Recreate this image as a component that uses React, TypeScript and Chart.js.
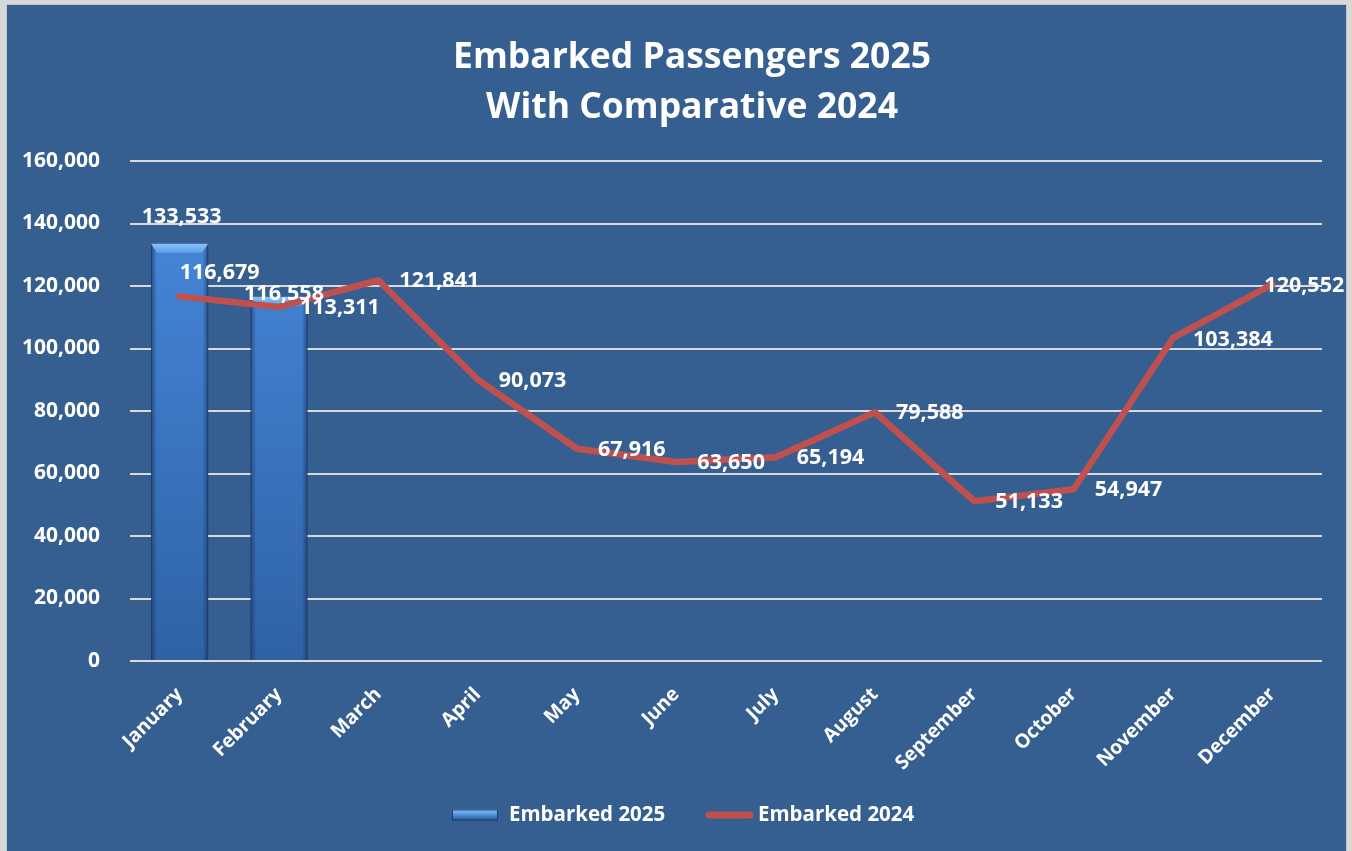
import React, { useEffect, useRef } from "react";
import { Chart, registerables } from "chart.js";

Chart.register(...registerables);

const months = [
  "January", "February", "March", "April", "May", "June",
  "July", "August", "September", "October", "November", "December",
];
const embarked2025: (number | null)[] = [133533, 116558, null, null, null, null, null, null, null, null, null, null];
const embarked2024: number[] = [116679, 113311, 121841, 90073, 67916, 63650, 65194, 79588, 51133, 54947, 103384, 120552];
const yTickValues = [0, 20000, 40000, 60000, 80000, 100000, 120000, 140000, 160000];
const titleLines = ["Embarked Passengers 2025", "With Comparative 2024"];
const seriesNames = ["Embarked 2025", "Embarked 2024"];

const FONT = "'Open Sans', 'DejaVu Sans', sans-serif";
const PANEL = "#365f91";
const LINE_RED = "#c0504d";

const fmt = (v: number) => v.toLocaleString("en-US");

const backgroundPlugin = {
  id: "panelBackground",
  beforeDraw(chart: any) {
    const { ctx, width, height } = chart;
    ctx.save();
    ctx.fillStyle = "#d8d8d8";
    ctx.fillRect(0, 0, width, height);
    ctx.fillStyle = "#c4c4c4";
    ctx.fillRect(6, 4, width - 11, height - 4);
    ctx.fillStyle = PANEL;
    ctx.fillRect(7, 5, width - 13, height - 5);
    ctx.restore();
  },
};

const titlePlugin = {
  id: "titleLines",
  afterDraw(chart: any) {
    const { ctx } = chart;
    ctx.save();
    ctx.fillStyle = "#ffffff";
    ctx.font = `bold 35.5px ${FONT}`;
    ctx.textAlign = "center";
    ctx.textBaseline = "middle";
    ctx.fillText(titleLines[0], 692, 58);
    ctx.fillText(titleLines[1], 692, 108);
    ctx.restore();
  },
};

const barBevelPlugin = {
  id: "barBevel",
  afterDatasetDraw(chart: any, args: any) {
    if (args.index !== 0) return;
    const { ctx } = chart;
    const meta = chart.getDatasetMeta(0);
    ctx.save();
    meta.data.forEach((bar: any, i: number) => {
      if (embarked2025[i] == null) return;
      const { x, y, base, width } = bar;
      const x0 = x - width / 2;
      const x1 = x + width / 2;
      const side = ctx.createLinearGradient(x0, 0, x1, 0);
      side.addColorStop(0, "rgba(20,40,80,0.55)");
      side.addColorStop(0.1, "rgba(20,40,80,0.0)");
      side.addColorStop(0.9, "rgba(20,40,80,0.0)");
      side.addColorStop(1, "rgba(20,40,80,0.55)");
      ctx.fillStyle = side;
      ctx.fillRect(x0, y, width, base - y);
      const bev = 9;
      const g = ctx.createLinearGradient(0, y, 0, y + bev);
      g.addColorStop(0, "#86c1fb");
      g.addColorStop(1, "#5d9fe8");
      ctx.fillStyle = g;
      ctx.beginPath();
      ctx.moveTo(x0, y);
      ctx.lineTo(x1, y);
      ctx.lineTo(x1 - 6, y + bev);
      ctx.lineTo(x0 + 6, y + bev);
      ctx.closePath();
      ctx.fill();
    });
    ctx.restore();
  },
};

// label placement offsets relative to the library-computed point
const lineLabelShift: Record<number, [number, number, string]> = {
  0: [0, -24, "left"],
  10: [20, 2, "left"],
  11: [-8, 2, "left"],
};
const barLabelShift: Record<number, [number, number]> = {
  0: [2, -27],
  1: [5, -3],
};

const dataLabelPlugin = {
  id: "dataLabels",
  afterDatasetsDraw(chart: any) {
    const { ctx } = chart;
    ctx.save();
    ctx.fillStyle = "#ffffff";
    ctx.font = `bold 21.5px ${FONT}`;
    ctx.textBaseline = "middle";
    const barMeta = chart.getDatasetMeta(0);
    barMeta.data.forEach((bar: any, i: number) => {
      const v = embarked2025[i];
      if (v == null) return;
      const [dx, dy] = barLabelShift[i] || [0, -14];
      ctx.textAlign = "center";
      ctx.fillText(fmt(v), bar.x + dx, bar.y + dy);
    });
    const lineMeta = chart.getDatasetMeta(1);
    lineMeta.data.forEach((pt: any, i: number) => {
      const v = embarked2024[i];
      const [dx, dy, align] = lineLabelShift[i] || [21, 1, "left"];
      ctx.textAlign = align;
      ctx.fillText(fmt(v), pt.x + dx, pt.y + dy);
    });
    ctx.restore();
  },
};

const legendPlugin = {
  id: "customLegend",
  afterDraw(chart: any) {
    const { ctx } = chart;
    const cy = 815;
    ctx.save();
    const sx = 452, sw = 46, sh = 11;
    const g = ctx.createLinearGradient(0, cy - sh / 2, 0, cy + sh / 2);
    g.addColorStop(0, "#8cc6ff");
    g.addColorStop(0.5, "#4f8fdc");
    g.addColorStop(1, "#25508a");
    ctx.fillStyle = g;
    ctx.fillRect(sx, cy - sh / 2, sw, sh);
    ctx.strokeStyle = "#1f406e";
    ctx.lineWidth = 1;
    ctx.strokeRect(sx + 0.5, cy - sh / 2 + 0.5, sw - 1, sh - 1);
    ctx.fillStyle = "#ffffff";
    ctx.font = `bold 20.5px ${FONT}`;
    ctx.textAlign = "left";
    ctx.textBaseline = "middle";
    ctx.fillText(seriesNames[0], 509, cy);
    ctx.strokeStyle = LINE_RED;
    ctx.lineWidth = 7;
    ctx.lineCap = "round";
    ctx.beginPath();
    ctx.moveTo(709, cy);
    ctx.lineTo(750, cy);
    ctx.stroke();
    ctx.fillText(seriesNames[1], 758, cy);
    ctx.restore();
  },
};

export default function App() {
  const ref = useRef<HTMLCanvasElement | null>(null);

  useEffect(() => {
    document.body.style.margin = "0";
    const canvas = ref.current;
    if (!canvas) return;
    const chart = new Chart(canvas, {
      type: "bar",
      data: {
        labels: months,
        datasets: [
          {
            type: "bar",
            label: seriesNames[0],
            data: embarked2025,
            order: 2,
            barPercentage: 0.575,
            categoryPercentage: 1,
            borderColor: "#234a80",
            borderWidth: 1,
            backgroundColor: (c: any) => {
              const area = c.chart.chartArea;
              if (!area) return "#3a75c0";
              const g = c.chart.ctx.createLinearGradient(0, area.top, 0, area.bottom);
              g.addColorStop(0, "#4a8ce0");
              g.addColorStop(0.35, "#3f7dcc");
              g.addColorStop(1, "#2f62a4");
              return g;
            },
          } as any,
          {
            type: "line",
            label: seriesNames[1],
            data: embarked2024,
            order: 1,
            borderColor: LINE_RED,
            borderWidth: 6.5,
            pointRadius: 0,
            pointHoverRadius: 0,
            tension: 0,
            borderJoinStyle: "round",
            borderCapStyle: "round",
          } as any,
        ],
      },
      options: {
        responsive: false,
        animation: false,
        events: [],
        layout: { padding: { left: 0, right: 30, top: 161, bottom: 70 } },
        plugins: {
          legend: { display: false },
          title: { display: false },
          tooltip: { enabled: false },
        },
        scales: {
          x: {
            grid: { display: false },
            border: { display: false },
            ticks: {
              color: "#ffffff",
              font: { family: FONT, size: 19.5, weight: "bold" },
              maxRotation: 45,
              minRotation: 45,
              padding: 14,
              autoSkip: false,
            },
            afterFit: (s: any) => {
              s.height = 120;
            },
          },
          y: {
            min: 0,
            max: 160000,
            afterBuildTicks: (s: any) => {
              s.ticks = yTickValues.map((v) => ({ value: v }));
            },
            grid: { color: "#d9d9d9", lineWidth: 2, drawTicks: false },
            border: { display: false },
            ticks: {
              color: "#ffffff",
              font: { family: FONT, size: 21, weight: "bold" },
              padding: 30,
              callback: (v: any) => fmt(Number(v)),
            },
            afterFit: (s: any) => {
              s.width = 130;
            },
          },
        },
      },
      plugins: [backgroundPlugin, barBevelPlugin, dataLabelPlugin, titlePlugin, legendPlugin],
    });
    return () => chart.destroy();
  }, []);

  return (
    <div style={{ position: "absolute", left: 0, top: 0, width: 1352, height: 851 }}>
      <canvas ref={ref} width={1352} height={851} />
    </div>
  );
}
